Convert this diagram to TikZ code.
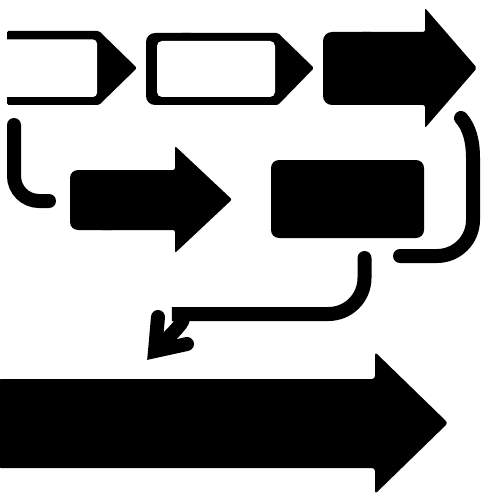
\documentclass[tikz,border=0pt]{standalone}
\begin{document}
\begin{tikzpicture}[x=1pt,y=-1pt,
  shapefill/.style={fill=black},
  conn/.style={draw=black,line width=14pt,line cap=round}]
\useasboundingbox[fill=white] (0,0) rectangle (500,500);

% shape 1: open tag outline with solid head
\fill[shapefill,rounded corners=1.5pt] (7,31) -- (99,31) -- (137,68) -- (99,105) -- (7,105) -- cycle;
\fill[white] (-1,39.5) [rounded corners=4pt] -- (97,39.5) -- (97,97) [sharp corners] -- (-1,97) -- cycle;

% shape 2: outlined tag
\fill[shapefill,rounded corners=9pt] (146,33) rectangle (200,105);
\fill[shapefill,rounded corners=1.5pt] (180,33) -- (278,33) -- (314,68) -- (278,105) -- (180,105) -- cycle;
\fill[white,rounded corners=5pt] (157,41) rectangle (275,97);

% shape 3: solid arrow top right
\fill[shapefill,rounded corners=9pt] (323,32) rectangle (380,105);
\fill[shapefill,rounded corners=2pt] (360,32) -- (425,32) -- (425,8) -- (477,68) -- (425,128) -- (425,105) -- (360,105) -- cycle;

% shape 5: solid arrow middle left
\fill[shapefill,rounded corners=8pt] (70,170) rectangle (120,230);
\fill[shapefill,rounded corners=2pt] (100,170) -- (175,170) -- (175,146) -- (232,199.5) -- (175,253) -- (175,230) -- (100,230) -- cycle;

% shape 6: solid rounded rectangle
\fill[shapefill,rounded corners=8pt] (271,160) rectangle (424,238);

% shape 9: big arrow bottom
\fill[shapefill,rounded corners=3pt] (-2,379) -- (375,379) -- (375,352) -- (448,423) -- (375,494) -- (375,468) -- (-2,468) -- cycle;

% connectors
\coordinate (c1a) at (14,125);
\coordinate (c1b) at (14,201);
\coordinate (c1c) at (49,201);
\draw[conn,rounded corners=25pt] (c1a) -- (c1b) -- (c1c);

\coordinate (c2a) at (461,118);
\coordinate (c2b) at (473,158);
\coordinate (c2c) at (473,256);
\coordinate (c2d) at (400,256);
\draw[conn] (c2a) .. controls (469,127) and (473,140) .. (c2b) [rounded corners=36pt] -- (c2c) -- (c2d);

\coordinate (c3a) at (364.5,258);
\coordinate (c3b) at (364.5,314);
\coordinate (c3c) at (208,314);
\coordinate (c3d) at (157,349);
\draw[conn,rounded corners=36pt] (c3a) -- (c3b) -- (c3c) .. controls (192,314) and (184,322) .. (c3d);

% arrow chevron
\coordinate (h1) at (158,317);
\coordinate (ht) at (155,351);
\coordinate (h2) at (187,344);
\draw[conn,line join=miter] (h1) -- (ht) -- (h2);
\end{tikzpicture}
\end{document}
